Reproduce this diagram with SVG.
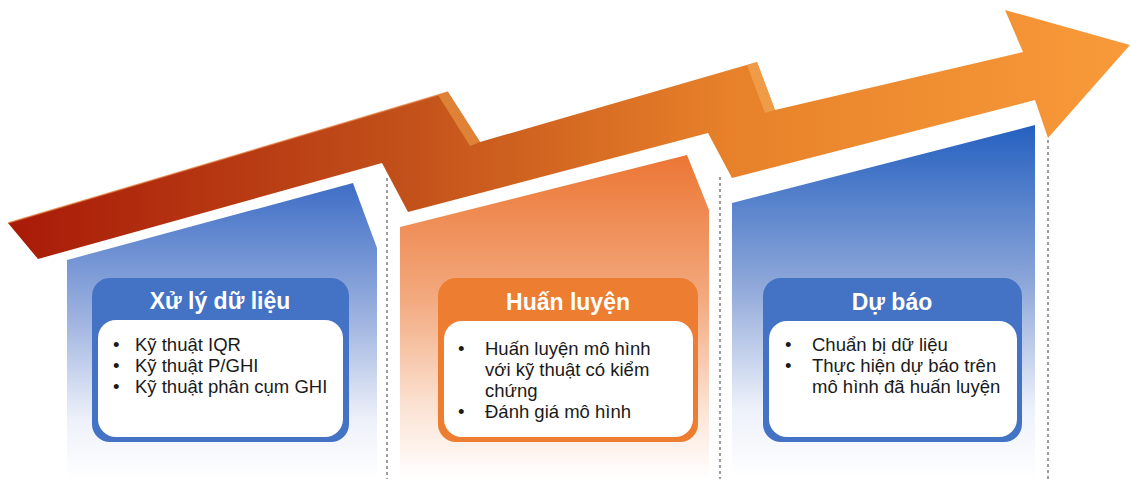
<svg xmlns="http://www.w3.org/2000/svg" width="1131" height="479" viewBox="0 0 1131 479">
<style>
.title{font-family:"Liberation Sans",Arial,sans-serif;font-weight:bold;font-size:23px;fill:#ffffff;text-anchor:middle}
.body{font-family:"Liberation Sans",Arial,sans-serif;font-size:18.5px;fill:#1a1a1a}
.dash{stroke:#7f7f7f;stroke-width:1.5;stroke-dasharray:3 3;fill:none}
.inner{fill:#ffffff}
</style>
<defs>
<linearGradient id="arrowG" x1="8" y1="0" x2="1130" y2="0" gradientUnits="userSpaceOnUse">
<stop offset="0" stop-color="#a81a08"/>
<stop offset="0.35" stop-color="#c2501a"/>
<stop offset="0.65" stop-color="#e8822a"/>
<stop offset="1" stop-color="#f89a3a"/>
</linearGradient>
<linearGradient id="blue1" x1="0" y1="183" x2="0" y2="479" gradientUnits="userSpaceOnUse">
<stop offset="0" stop-color="#3e6ec6"/>
<stop offset="0.45" stop-color="#9cb1df"/>
<stop offset="0.8" stop-color="#eef1fa"/>
<stop offset="1" stop-color="#ffffff"/>
</linearGradient>
<linearGradient id="orange1" x1="0" y1="155" x2="0" y2="479" gradientUnits="userSpaceOnUse">
<stop offset="0" stop-color="#ec7634"/>
<stop offset="0.45" stop-color="#f3aa80"/>
<stop offset="0.78" stop-color="#fbe3d4"/>
<stop offset="1" stop-color="#ffffff"/>
</linearGradient>
<linearGradient id="blue3" x1="0" y1="125" x2="0" y2="479" gradientUnits="userSpaceOnUse">
<stop offset="0" stop-color="#2460c0"/>
<stop offset="0.45" stop-color="#8ea7d9"/>
<stop offset="0.8" stop-color="#edf1fa"/>
<stop offset="1" stop-color="#ffffff"/>
</linearGradient>
</defs>
<rect width="1131" height="479" fill="#ffffff"/>

<g id="panels">
<polygon points="67,260 353,183 377,248 377,479 67,479" fill="url(#blue1)"/>
<polygon points="400,227 687,155 709,210 709,479 400,479" fill="url(#orange1)"/>
<polygon points="732,203 1035,125 1035,479 732,479" fill="url(#blue3)"/>
</g>

<g id="connectors">
<line class="dash" x1="387" y1="178" x2="387" y2="479"/>
<line class="dash" x1="720" y1="177" x2="720" y2="479"/>
<line class="dash" x1="1048" y1="140" x2="1048" y2="479"/>
</g>

<g id="arrow">
<polygon points="8,223 448,92 480,142 757,62 775,110 1023,52 1005,10 1130,45 1048,138 1035,100 732,178 708,133 408,212 382,163 38,259" fill="url(#arrowG)"/>
<polygon points="438,95 448,92 480,142 470,146" fill="#e08a3c" opacity="0.85"/>
<polygon points="747,65 757,62 775,110 765,113" fill="#f0a04c" opacity="0.85"/>
<polyline points="8,223 448,92" stroke="#e27a3a" stroke-width="1.5" fill="none" opacity="0.7"/>
</g>

<g id="node-xu-ly">
<rect x="92" y="278" width="257" height="164" rx="18" fill="#4472c4"/>
<rect class="inner" x="98" y="320" width="245" height="117" rx="18"/>
<text class="title" x="220" y="309">Xử lý dữ liệu</text>
<text class="body" x="113" y="351">•</text>
<text class="body" x="135" y="351">Kỹ thuật IQR</text>
<text class="body" x="113" y="372">•</text>
<text class="body" x="135" y="372">Kỹ thuật P/GHI</text>
<text class="body" x="113" y="393">•</text>
<text class="body" x="135" y="393">Kỹ thuật phân cụm GHI</text>
</g>

<g id="node-huan-luyen">
<rect x="438" y="278" width="260" height="164" rx="18" fill="#ed7d31"/>
<rect class="inner" x="444" y="321" width="249" height="116" rx="18"/>
<text class="title" x="568" y="310">Huấn luyện</text>
<text class="body" x="458" y="355">•</text>
<text class="body" x="485" y="355">Huấn luyện mô hình</text>
<text class="body" x="485" y="376">với kỹ thuật có kiểm</text>
<text class="body" x="485" y="397">chứng</text>
<text class="body" x="458" y="418">•</text>
<text class="body" x="485" y="418">Đánh giá mô hình</text>
</g>

<g id="node-du-bao">
<rect x="763" y="278" width="259" height="164" rx="18" fill="#4472c4"/>
<rect class="inner" x="769" y="321" width="248" height="116" rx="18"/>
<text class="title" x="892" y="310">Dự báo</text>
<text class="body" x="785" y="351">•</text>
<text class="body" x="812" y="351">Chuẩn bị dữ liệu</text>
<text class="body" x="785" y="372">•</text>
<text class="body" x="812" y="372">Thực hiện dự báo trên</text>
<text class="body" x="812" y="393">mô hình đã huấn luyện</text>
</g>
</svg>
